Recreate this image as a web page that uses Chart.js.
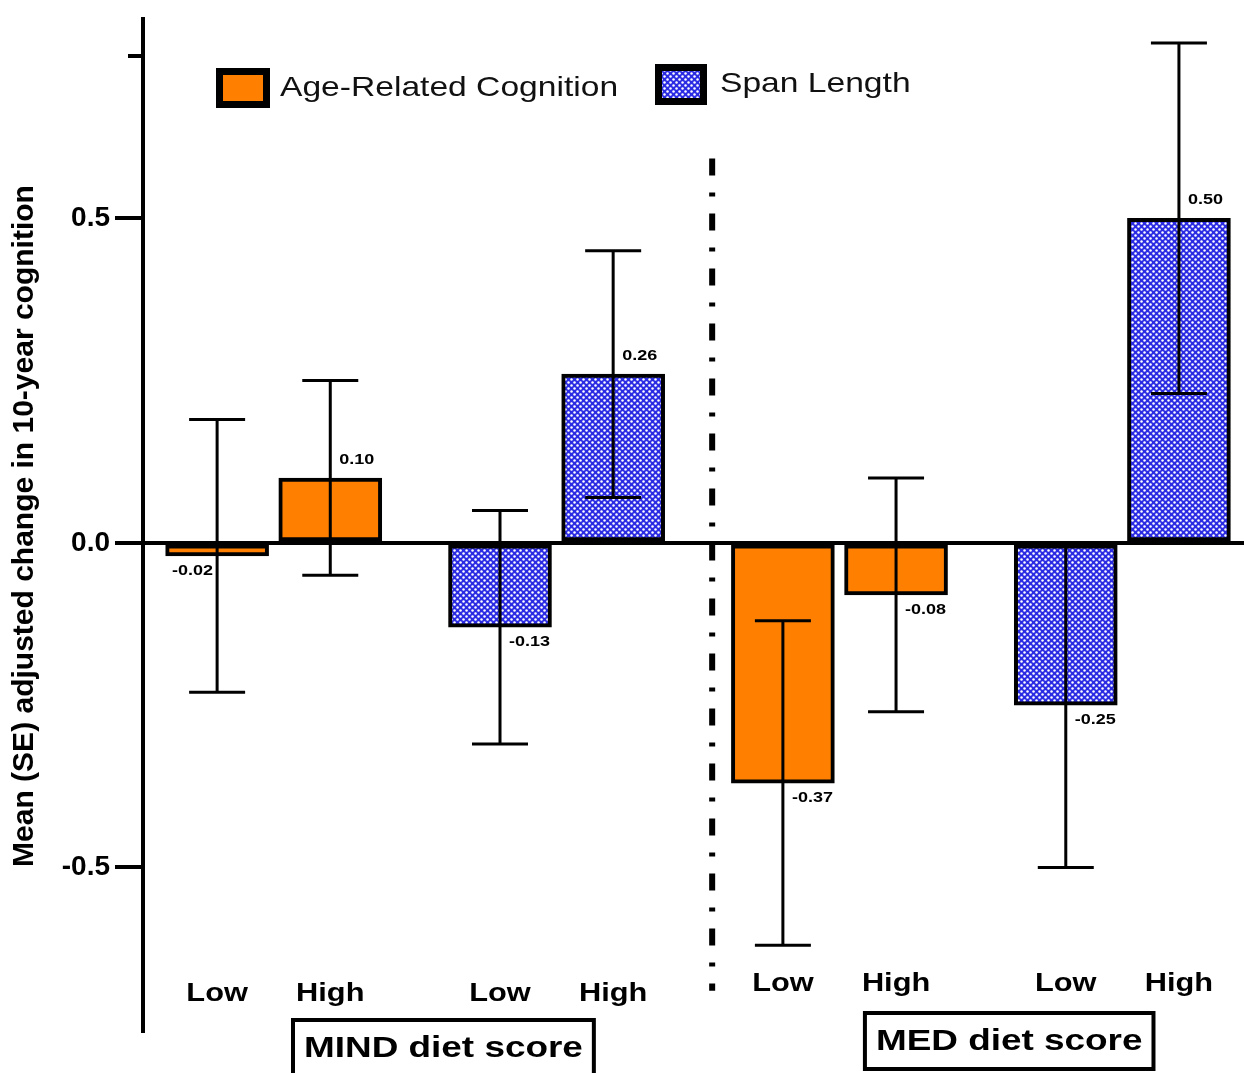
<!DOCTYPE html>
<html>
<head>
<meta charset="utf-8">
<script src="https://cdn.jsdelivr.net/npm/chart.js@4.4.1/dist/chart.umd.min.js"></script>
<style>
  html, body { margin: 0; padding: 0; background: #fff; }
  #wrap { width: 1244px; height: 1073px; position: relative; }
</style>
</head>
<body>
<div id="wrap"><canvas id="chart"></canvas></div>
<script>
// data
const groups = ['MIND diet score', 'MED diet score'];
const levels = ['Low', 'High'];
const seriesNames = ['Age-Related Cognition', 'Span Length'];
const ageMean = [-0.02, 0.10, -0.37, -0.08];
const ageSE = [0.21, 0.15, 0.25, 0.18];
const spanMean = [-0.13, 0.26, -0.25, 0.50];
const spanSE = [0.18, 0.19, 0.25, 0.27];
const yTicks = [-0.5, 0, 0.5];
const yMinorTicks = [0.75];

const FONT = '"Liberation Sans", Arial, sans-serif';
const ORANGE = '#ff8000';

// slot along x: each group holds the two series, each series the two levels
const slot = (g, s, l) => 10 * g + 5 * s + 2 * l;

function makePattern() {
    const c = document.createElement('canvas');
    c.width = 6; c.height = 6;
    const g = c.getContext('2d');
    g.fillStyle = '#2b2be4';
    g.fillRect(0, 0, 6, 6);
    g.fillStyle = '#ffffff';
    [[1.5, 1.5], [4.5, 4.5]].forEach(([x, y]) => {
        g.beginPath(); g.arc(x, y, 1.25, 0, Math.PI * 2); g.fill();
    });
    return g.createPattern(c, 'repeat');
}
const BLUE = makePattern();

function build(means, s) {
    return means.map((v, i) => ({ x: slot(Math.floor(i / 2), s, i % 2), y: v }));
}

// horizontally stretched text, the figure's lettering is wider than normal
function sText(ctx, txt, x, y, font, align, sx) {
    sx = sx || 1.2;
    ctx.save();
    ctx.font = font;
    ctx.textBaseline = 'middle';
    ctx.textAlign = align || 'left';
    ctx.translate(x, y);
    ctx.scale(sx, 1);
    ctx.fillText(txt, 0, 0);
    ctx.restore();
}
function sWidth(ctx, txt, font, sx) {
    ctx.save(); ctx.font = font;
    const w = ctx.measureText(txt).width * (sx || 1.2);
    ctx.restore();
    return w;
}

const decor = {
    id: 'decor',
    afterDatasetsDraw(chart) {
        const ctx = chart.ctx;
        const xs = chart.scales.x, ys = chart.scales.y;
        ctx.save();
        ctx.fillStyle = '#000';
        ctx.strokeStyle = '#000';

        // minor tick at the top of the axis
        ctx.lineWidth = 4;
        yMinorTicks.forEach(v => {
            const py = ys.getPixelForValue(v);
            ctx.beginPath(); ctx.moveTo(chart.chartArea.left - 15, py); ctx.lineTo(chart.chartArea.left, py); ctx.stroke();
        });

        // error bars and value labels
        chart.data.datasets.forEach((ds, di) => {
            const meta = chart.getDatasetMeta(di);
            meta.data.forEach((bar, i) => {
                const v = ds.data[i].y, se = ds.se[i];
                const cx = bar.x;
                const yHi = ys.getPixelForValue(v + se), yLo = ys.getPixelForValue(v - se);
                ctx.lineWidth = 3;
                ctx.beginPath();
                ctx.moveTo(cx, yHi); ctx.lineTo(cx, yLo);
                ctx.moveTo(cx - 28, yHi); ctx.lineTo(cx + 28, yHi);
                ctx.moveTo(cx - 28, yLo); ctx.lineTo(cx + 28, yLo);
                ctx.stroke();

                const f = 'bold 15px ' + FONT;
                const txt = v.toFixed(2);
                const end = ys.getPixelForValue(v);
                const ly = v >= 0 ? end - 18 : end + 15;
                if (Math.abs(v) < 0.05) sText(ctx, txt, cx - 4, ly, f, 'right');
                else sText(ctx, txt, cx + 9, ly, f, 'left');
            });
        });

        // dash-dot separator between the two diet scores
        const sepX = xs.getPixelForValue(8.75);
        ctx.lineWidth = 6;
        ctx.setLineDash([17, 17, 4, 17]);
        ctx.beginPath();
        ctx.moveTo(sepX, ys.getPixelForValue(0.592));
        ctx.lineTo(sepX, ys.getPixelForValue(-0.69));
        ctx.stroke();
        ctx.setLineDash([]);

        // level labels and group boxes
        const shift = [0, -10];
        groups.forEach((name, g) => {
            for (let s = 0; s < 2; s++) {
                levels.forEach((lv, l) => {
                    sText(ctx, lv, xs.getPixelForValue(slot(g, s, l)), 994 + shift[g], 'bold 25px ' + FONT, 'center', 1.23);
                });
            }
            const f = 'bold 30px ' + FONT;
            const cx = xs.getPixelForValue(10 * g + 4);
            const w = sWidth(ctx, name, f, 1.23) + 22;
            const top = 1020 + shift[g] * 0.7;
            ctx.lineWidth = 4;
            ctx.strokeRect(cx - w / 2, top, w, 56);
            sText(ctx, name, cx, top + 29, f, 'center', 1.23);
        });

        // legend
        const items = [
            { box: [216, 68, 54, 40], tx: 280, ty: 88 },
            { box: [655, 64, 52, 41], tx: 720, ty: 84 }
        ];
        chart.data.datasets.forEach((ds, di) => {
            const it = items[di];
            const [bx, by, bw, bh] = it.box;
            ctx.fillStyle = ds.backgroundColor;
            ctx.fillRect(bx, by, bw, bh);
            ctx.lineWidth = 7;
            ctx.strokeRect(bx + 3.5, by + 3.5, bw - 7, bh - 7);
            ctx.fillStyle = '#111';
            sText(ctx, ds.label, it.tx, it.ty, '28px ' + FONT, 'left', 1.2);
        });
        ctx.restore();
    }
};

new Chart(document.getElementById('chart'), {
    type: 'bar',
    data: {
        datasets: [
            { label: seriesNames[0], data: build(ageMean, 0), se: ageSE, backgroundColor: ORANGE },
            { label: seriesNames[1], data: build(spanMean, 1), se: spanSE, backgroundColor: BLUE }
        ]
    },
    options: {
        responsive: true,
        maintainAspectRatio: false,
        animation: false,
        layout: { padding: { top: 13, bottom: 40, right: 0, left: 0 } },
        datasets: {
            bar: {
                grouped: false,
                barThickness: 103,
                borderColor: '#000',
                borderWidth: 4,
                borderSkipped: false
            }
        },
        plugins: {
            legend: { display: false },
            tooltip: { enabled: false }
        },
        scales: {
            x: {
                type: 'linear',
                display: false,
                offset: false,
                min: -1.31,
                max: 18.15
            },
            y: {
                min: -0.755,
                max: 0.807,
                afterFit: s => { s.width = 143; },
                afterBuildTicks: s => { s.ticks = yTicks.map(v => ({ value: v })); },
                border: { display: true, color: '#000', width: 4 },
                grid: {
                    color: c => c.tick && c.tick.value === 0 ? '#000' : 'rgba(0,0,0,0)',
                    lineWidth: c => c.tick && c.tick.value === 0 ? 4 : 0,
                    drawTicks: true,
                    tickLength: 28,
                    tickWidth: 4,
                    tickColor: '#000'
                },
                ticks: {
                    color: '#000',
                    padding: 5,
                    font: { family: FONT, size: 28, weight: 'bold', lineHeight: 1 },
                    callback: v => Number(v).toFixed(1)
                },
                title: {
                    display: true,
                    text: 'Mean (SE) adjusted change in 10-year cognition',
                    color: '#000',
                    font: { family: FONT, size: 30, weight: 'bold' },
                    padding: { top: 7, bottom: 0 }
                }
            }
        }
    },
    plugins: [decor]
});
</script>
</body>
</html>
